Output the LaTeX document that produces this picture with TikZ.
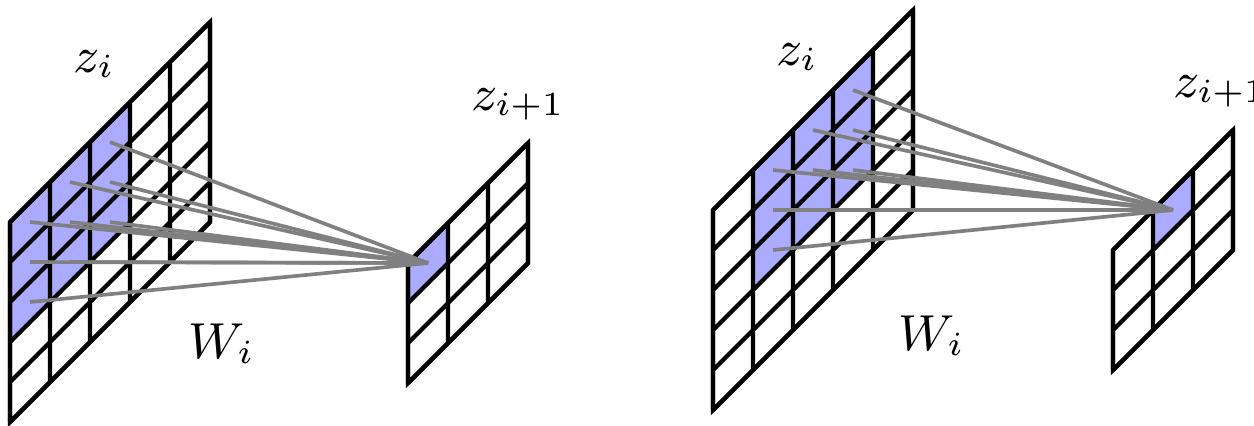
\documentclass[tikz,border=0pt]{standalone}
\begin{document}
\begin{tikzpicture}[
    x=0.25cm, y=0.25cm,
    plane/.style={line width=0.75pt},
    hot/.style={fill=blue!33},
    link/.style={draw=gray, line width=0.65pt},
    lab/.style={anchor=base west, inner sep=0pt, font=\fontsize{9}{11}\selectfont}
]
\useasboundingbox (0,0) rectangle (31.35,10.625);

% left: input layer and output layer
\begin{scope}[cm={1,1,0,1,(0.25,5.075)}]
  \fill[hot] (0,-3) rectangle (3,0);
  \draw[plane] (0,-5) grid[step=1] (5,0);
  \draw[plane] (0,-5) rectangle (5,0);
  \foreach \i in {0,1,2} \foreach \j in {0,1,2}
    \coordinate (in\i\j) at (\i+0.5,-\j-0.5);
\end{scope}
\begin{scope}[cm={1,1,0,1,(10.2,4.05)}]
  \fill[hot] (0,-1) rectangle (1,0);
  \draw[plane] (0,-3) grid[step=1] (3,0);
  \draw[plane] (0,-3) rectangle (3,0);
  \coordinate (out) at (0.5,-0.5);
\end{scope}
\foreach \i in {0,1,2} \foreach \j in {0,1,2}
  \draw[link] (in\i\j) -- (out);

\node[lab] (zin)  at (1.8,8.825)  {$z_i$};
\node[lab] (win)  at (4.675,1.675) {$W_i$};
\node[lab] (zout) at (11.75,7.875) {$z_{i+1}$};

% right: same, window moved one column
\begin{scope}[cm={1,1,0,1,(17.825,5.375)}]
  \fill[hot] (1,-3) rectangle (4,0);
  \draw[plane] (0,-5) grid[step=1] (5,0);
  \draw[plane] (0,-5) rectangle (5,0);
  \foreach \i in {0,1,2} \foreach \j in {0,1,2}
    \coordinate (ins\i\j) at (\i+1.5,-\j-0.5);
\end{scope}
\begin{scope}[cm={1,1,0,1,(27.825,4.375)}]
  \fill[hot] (1,-1) rectangle (2,0);
  \draw[plane] (0,-3) grid[step=1] (3,0);
  \draw[plane] (0,-3) rectangle (3,0);
  \coordinate (outs) at (1.5,-0.5);
\end{scope}
\foreach \i in {0,1,2} \foreach \j in {0,1,2}
  \draw[link] (ins\i\j) -- (outs);

\node[lab] (zins)  at (19.375,9.0)  {$z_i$};
\node[lab] (wins)  at (22.425,1.875) {$W_i$};
\node[lab] (zouts) at (29.3,8.2)  {$z_{i+1}$};
\end{tikzpicture}
\end{document}
